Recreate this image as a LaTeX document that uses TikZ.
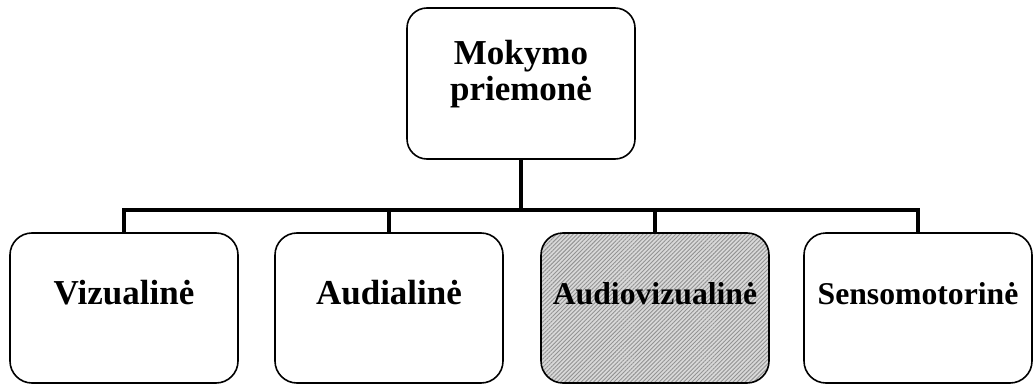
\documentclass[tikz,border=0pt]{standalone}
\usepackage{fontspec}
\setmainfont{Liberation Serif}
\usetikzlibrary{patterns.meta}
\begin{document}
\begin{tikzpicture}[x=1pt,y=-1pt,
  box/.style={draw=black, line width=1.6pt, rounded corners=22pt, fill=white,
    minimum width=228pt, minimum height=150pt, inner sep=0pt},
  hatched/.style={preaction={fill=gray!30},
    pattern={Lines[angle=45,distance=2.9pt,line width=0.9pt]}, pattern color=gray!85},
  big/.style={font=\bfseries\fontsize{35}{36}\selectfont, inner sep=0pt},
  small/.style={font=\bfseries\fontsize{31.7}{36}\selectfont, inner sep=0pt},
  conn/.style={line width=4.5pt, line join=miter, line cap=butt}]
\useasboundingbox (0,0) rectangle (1033,385);

% top node
\node[box, minimum height=151pt, rounded corners=20pt] (top) at (521,83.5) {};
\node[big, align=center, anchor=base] (toptext) at (521,101) {Mokymo\\priemonė};

% category boxes
\node[box] (viz) at (124,308) {};
\node[box] (aud) at (389,308) {};
\node[box, fill=none, hatched] (av) at (655,308) {};
\node[box] (sen) at (918,308) {};

\node[big, anchor=base] (viztext) at (124,304) {Vizualinė};
\node[big, anchor=base] (audtext) at (389,304) {Audialinė};
\node[small, anchor=base] (avtext) at (655,304) {Audiovizualinė};
\node[small, anchor=base] (sentext) at (918,304) {Sensomotorinė};

% connectors
\coordinate (bus) at (0,210);
\draw[conn] (top.south) -- (top.south |- bus);
\draw[conn] (viz.north) -- (viz.north |- bus) -- (sen.north |- bus) -- (sen.north);
\draw[conn] (aud.north) -- (aud.north |- bus);
\draw[conn] (av.north) -- (av.north |- bus);
\end{tikzpicture}
\end{document}
